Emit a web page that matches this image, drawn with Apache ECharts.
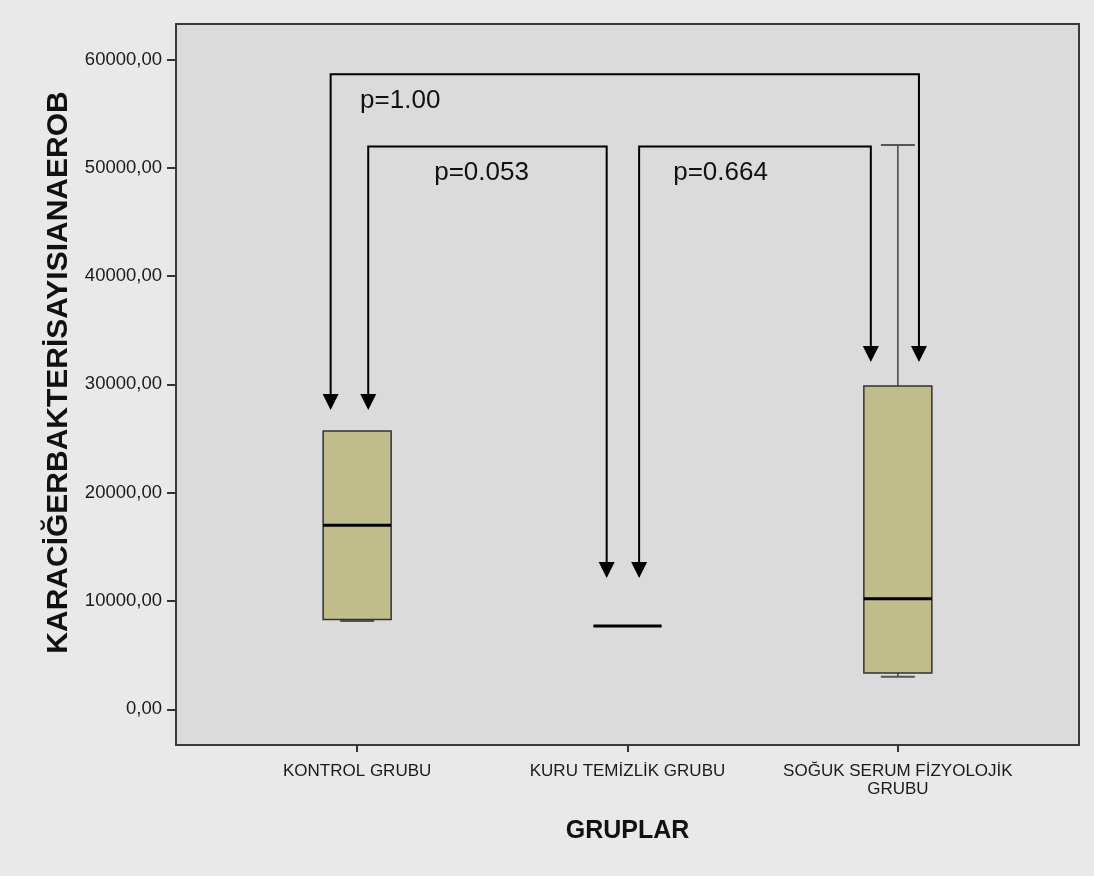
<!DOCTYPE html>
<html>
<head>
<meta charset="utf-8">
<script src="https://cdn.jsdelivr.net/npm/echarts@6/dist/echarts.min.js"></script>
<style>
  html, body { margin: 0; padding: 0; background: #e9e9e9; }
  #chart { width: 1094px; height: 876px; }
</style>
</head>
<body>
<div id="chart"></div>
<script>
const groups = ["KONTROL GRUBU", "KURU TEMİZLİK GRUBU", "SOĞUK SERUM FİZYOLOJİK\nGRUBU"];
const boxMin = [8150, 7690, 3000];
const boxQ1 = [8300, 7690, 3350];
const boxMedian = [17000, 7690, 10200];
const boxQ3 = [25700, 7690, 29850];
const boxMax = [25700, 7690, 52100];
const yTicks = [0, 10000, 20000, 30000, 40000, 50000, 60000];

// comparison brackets (x on the group scale, y in data units)
const bracketLeftX = [-0.098, 0.041, 1.043];
const bracketLeftTip = [27640, 27640, 12120];
const bracketTop = [58630, 51950, 51950];
const bracketRightX = [2.078, 0.923, 1.9];
const bracketRightTip = [32070, 12120, 32070];
const pLabels = ["p=1.00", "p=0.053", "p=0.664"];
const pLabelX = [0.011, 0.285, 1.169];
const pLabelY = [56170, 49520, 49570];

const chart = echarts.init(document.getElementById("chart"));

const boxData = groups.map((g, i) => [i, boxMin[i], boxQ1[i], boxMedian[i], boxQ3[i], boxMax[i]]);
const bracketData = pLabels.map((p, i) => [
  bracketLeftX[i], bracketLeftTip[i], bracketTop[i], bracketRightX[i], bracketRightTip[i]
]);
const labelData = pLabels.map((p, i) => [pLabelX[i], pLabelY[i], p]);

function renderBox(params, api) {
  const x = api.value(0);
  const pMin = api.coord([x, api.value(1)]);
  const pQ1 = api.coord([x, api.value(2)]);
  const pMed = api.coord([x, api.value(3)]);
  const pQ3 = api.coord([x, api.value(4)]);
  const pMax = api.coord([x, api.value(5)]);
  const c = pMed[0];
  const half = 34;
  const cap = 17;
  const whisker = { stroke: "#444", lineWidth: 1.5 };
  const children = [];
  if (api.value(5) > api.value(4)) {
    children.push({ type: "line", shape: { x1: c, y1: pQ3[1], x2: c, y2: pMax[1] }, style: whisker });
    children.push({ type: "line", shape: { x1: c - cap, y1: pMax[1], x2: c + cap, y2: pMax[1] }, style: { stroke: "#555", lineWidth: 2 } });
  }
  if (api.value(1) < api.value(2)) {
    children.push({ type: "line", shape: { x1: c, y1: pQ1[1], x2: c, y2: pMin[1] }, style: whisker });
    children.push({ type: "line", shape: { x1: c - cap, y1: pMin[1], x2: c + cap, y2: pMin[1] }, style: { stroke: "#555", lineWidth: 2 } });
  }
  children.push({
    type: "rect",
    shape: { x: c - half, y: pQ3[1], width: half * 2, height: pQ1[1] - pQ3[1] },
    style: { fill: "#c1bc8b", stroke: "#333", lineWidth: 1.5 }
  });
  children.push({
    type: "line",
    shape: { x1: c - half, y1: pMed[1], x2: c + half, y2: pMed[1] },
    style: { stroke: "#000", lineWidth: 3 }
  });
  return { type: "group", children };
}

function arrowHead(p) {
  return {
    type: "polygon",
    shape: { points: [[p[0] - 8, p[1] - 16], [p[0] + 8, p[1] - 16], [p[0], p[1]]] },
    style: { fill: "#000" }
  };
}

function renderBracket(params, api) {
  const a = api.coord([api.value(0), api.value(1)]);
  const b = api.coord([api.value(0), api.value(2)]);
  const c = api.coord([api.value(3), api.value(2)]);
  const d = api.coord([api.value(3), api.value(4)]);
  return {
    type: "group",
    children: [
      {
        type: "polyline",
        shape: { points: [[a[0], a[1] - 10], b, c, [d[0], d[1] - 10]] },
        style: { stroke: "#000", lineWidth: 2, fill: null }
      },
      arrowHead(a),
      arrowHead(d)
    ]
  };
}

function renderLabel(params, api) {
  const p = api.coord([api.value(0), api.value(1)]);
  return {
    type: "text",
    x: p[0],
    y: p[1],
    style: {
      text: labelData[params.dataIndex][2],
      fill: "#111",
      font: "26px 'Liberation Sans', Arial, sans-serif",
      align: "left",
      verticalAlign: "middle"
    }
  };
}

chart.setOption({
  backgroundColor: "#e9e9e9",
  animation: false,
  textStyle: { fontFamily: "'Liberation Sans', Arial, sans-serif" },
  grid: {
    left: 176, top: 24, right: 15, bottom: 131,
    show: true, backgroundColor: "#dbdbdb", borderColor: "#3a3a3a", borderWidth: 2
  },
  xAxis: {
    type: "value",
    min: -0.67,
    max: 2.67,
    splitLine: { show: false },
    axisLine: { show: false, onZero: false },
    axisTick: { show: true, customValues: [0, 1, 2], length: 7, lineStyle: { color: "#333", width: 2 } },
    axisLabel: {
      customValues: [0, 1, 2],
      formatter: (v) => groups[Math.round(v)],
      color: "#1a1a1a",
      fontSize: 17,
      lineHeight: 18,
      margin: 17
    },
    name: "GRUPLAR",
    nameLocation: "middle",
    nameGap: 74,
    nameTextStyle: { fontSize: 25, fontWeight: "bold", color: "#111" }
  },
  yAxis: {
    type: "value",
    min: -3290,
    max: 63270,
    splitLine: { show: false },
    axisLine: { show: false, onZero: false },
    axisTick: { show: true, customValues: yTicks, length: 9, lineStyle: { color: "#333", width: 2 } },
    axisLabel: {
      customValues: yTicks,
      formatter: (v) => v.toFixed(2).replace(".", ","),
      color: "#1a1a1a",
      fontSize: 18.5,
      margin: 14
    },
    name: "KARACİĞERBAKTERİSAYISIANAEROB",
    nameLocation: "middle",
    nameGap: 99,
    nameTextStyle: { fontSize: 30, fontWeight: "bold", color: "#111", padding: [0, 0, 0, 24] }
  },
  series: [
    { type: "custom", data: boxData, renderItem: renderBox, encode: { x: 0, y: [1, 2, 3, 4, 5] }, silent: true },
    { type: "custom", data: bracketData, renderItem: renderBracket, encode: { x: [0, 3], y: [1, 2, 4] }, silent: true },
    { type: "custom", data: labelData, renderItem: renderLabel, encode: { x: 0, y: 1 }, silent: true }
  ]
});
</script>
</body>
</html>
